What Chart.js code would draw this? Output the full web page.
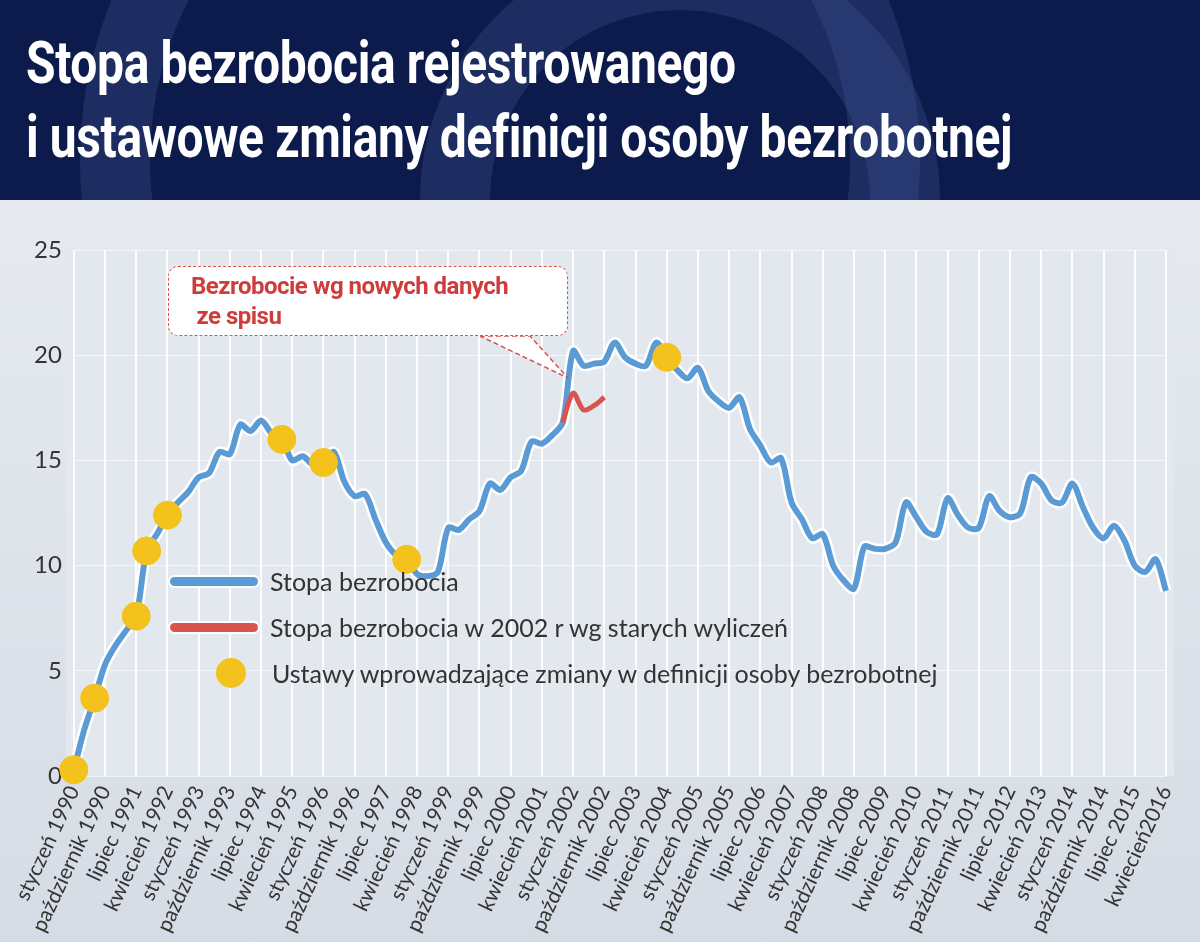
<!DOCTYPE html>
<html><head><meta charset="utf-8">
<script src="https://cdn.jsdelivr.net/npm/chart.js@4"></script>
<style>
body{margin:0;width:1200px;height:942px;overflow:hidden;background:#d9dfe7;font-family:Lato,sans-serif;position:relative}
#banner{position:absolute;left:0;top:0;width:1200px;height:200px;background:#0d1b4c;overflow:hidden}
#banner h1{position:absolute;left:26px;top:26px;margin:0;color:#fff;font-family:Roboto,sans-serif;font-size:60px;line-height:74px;font-weight:bold;letter-spacing:-0.5px;white-space:nowrap;transform:scaleX(0.8);transform-origin:left top}
.ring{position:absolute;border-radius:50%;border:70px solid rgba(60,80,140,0.35)}
#bg{position:absolute;left:0;top:200px;width:1200px;height:742px;background:linear-gradient(#e6eaf0,#d6dce5)}
#wrap{position:absolute;left:0;top:200px;width:1200px;height:742px}
#legend{position:absolute;left:170px;top:558px;font-size:25px;color:#333;line-height:46px}
#legend div{display:flex;align-items:center}
.ln{display:inline-block;width:88px;height:9px;border-radius:5px;margin-right:12px}
.dt{display:inline-block;width:30px;height:30px;border-radius:50%;background:#f3c21c;margin:0 26px 0 46px}
#call{position:absolute;left:168px;top:266px;width:400px;height:70px;border:1.5px dashed #d9534f;border-radius:10px;background:#fff;color:#d03c3c;font-family:Roboto,sans-serif;font-size:24px;font-weight:bold;line-height:30px;padding:4px 0 0 22px;box-sizing:border-box;letter-spacing:-0.5px}
</style></head><body>
<div id="bg"></div>
<div id="banner">
<div class="ring" style="left:80px;top:-260px;width:700px;height:700px"></div>
<div class="ring" style="left:420px;top:-60px;width:380px;height:380px"></div>
<h1>Stopa bezrobocia rejestrowanego<br>i ustawowe zmiany definicji osoby bezrobotnej</h1>
</div>
<div id="wrap"><canvas id="c" width="1200" height="742"></canvas></div>
<svg style="position:absolute;left:0;top:0" width="1200" height="942"><polygon points="480,336 530,336 568,378" fill="#fff" stroke="#d9534f" stroke-dasharray="5,3" stroke-width="1.5"/><rect x="482" y="330" width="46" height="6" fill="#fff"/></svg>
<div id="call">Bezrobocie wg nowych danych<br>&nbsp;ze spisu</div>
<div id="legend">
<div><span class="ln" style="background:#5b9bd5;box-shadow:0 0 0 2px #fff"></span>Stopa bezrobocia</div>
<div><span class="ln" style="background:#d9534f;box-shadow:0 0 0 2px #fff"></span>Stopa bezrobocia w 2002 r wg starych wyliczeń</div>
<div><span class="dt"></span>Ustawy wprowadzające zmiany w definicji osoby bezrobotnej</div>
</div>
<script>
const months=["styczeń","kwiecień","lipiec","październik"];
const years=[1990,1991,1992,1993,1994,1995,1996,1997,1998,1999,2000,2001,2002,2003,2004,2005,2006,2007,2008,2009,2010,2011,2012,2013,2014,2015,2016];
const rate=[
0.3,2.2,3.7,5.3, 6.2,6.9,7.6,10.7, 11.5,12.4,13.0,13.5, 14.2,14.4,15.4,15.3,
16.7,16.4,16.9,16.3, 16.0,15.0,15.2,14.8, 14.9,15.4,14.0,13.3, 13.4,12.2,11.1,10.5,
10.3,9.6,9.5,9.7, 11.8,11.7,12.2,12.6, 13.9,13.6,14.2,14.5, 15.9,15.8,16.2,16.8,
20.2,19.5,19.6,19.7, 20.6,19.9,19.6,19.5, 20.6,19.9,19.3,18.9, 19.4,18.3,17.8,17.5,
18.0,16.5,15.7,14.9, 15.1,13.0,12.2,11.3, 11.5,10.0,9.3,8.9, 10.9,10.8,10.8,11.1,
13.0,12.3,11.6,11.5, 13.2,12.4,11.8,11.8, 13.3,12.6,12.3,12.5, 14.2,13.9,13.1,13.0,
13.9,12.8,11.8,11.3, 11.9,11.2,10.0,9.7, 10.3,8.8];
const oldIdx=[47,48,49,50,51];
const oldRate=[16.8,18.2,17.4,17.6,18.0];
const lawIdx=[0,2,6,7,9,20,24,32,57];
const lawRate=[0.3,3.7,7.6,10.7,12.4,16.0,14.9,10.3,19.9];
const labels=[];
years.forEach(y=>months.forEach(m=>labels.push(m+" "+y)));
labels.length=rate.length;
labels[labels.length-1]="kwiecień2016";
const oldData=labels.map(()=>null); oldIdx.forEach((k,j)=>oldData[k]=oldRate[j]);
const lawData=labels.map(()=>null); lawIdx.forEach((k,j)=>lawData[k]=lawRate[j]);
const plotBg={id:'pb',beforeDraw(ch){const a=ch.chartArea,c=ch.ctx;c.save();c.fillStyle='#e3e8ef';c.fillRect(a.left-8,a.top,a.right-a.left+16,a.bottom-a.top);c.restore();}};
new Chart(document.getElementById('c'),{
type:'line',
data:{labels,datasets:[
{data:lawData,showLine:false,pointRadius:14,pointBackgroundColor:'#f3c21c',pointBorderColor:'#f3c21c',order:0},
{data:oldData,borderColor:'#d9534f',borderWidth:5,pointRadius:0,tension:0.3,order:1},
{data:rate,borderColor:'#5b9bd5',borderWidth:6,pointRadius:0,tension:0.3,order:2},
{data:rate,borderColor:'#ffffff',borderWidth:11,pointRadius:0,tension:0.3,order:3}
]},
plugins:[plotBg],
options:{responsive:false,animation:false,clip:false,
layout:{padding:{left:22,right:34,top:50,bottom:0}},
plugins:{legend:{display:false},tooltip:{enabled:false}},
scales:{
x:{grid:{color:ctx=>ctx.index%3===0?'rgba(255,255,255,0.9)':'transparent',lineWidth:2,drawTicks:false},border:{display:false},
ticks:{autoSkip:false,maxRotation:65,minRotation:65,padding:6,color:'#333',font:{family:'Lato',size:21},
callback:(v,i)=>i%3===0?labels[i]:''}},
y:{min:0,max:25,ticks:{stepSize:5,color:'#333',font:{family:'Lato',size:24},padding:12},
grid:{color:'rgba(255,255,255,0.6)',drawTicks:false},border:{display:false}}
}}});
</script>
</body></html>
